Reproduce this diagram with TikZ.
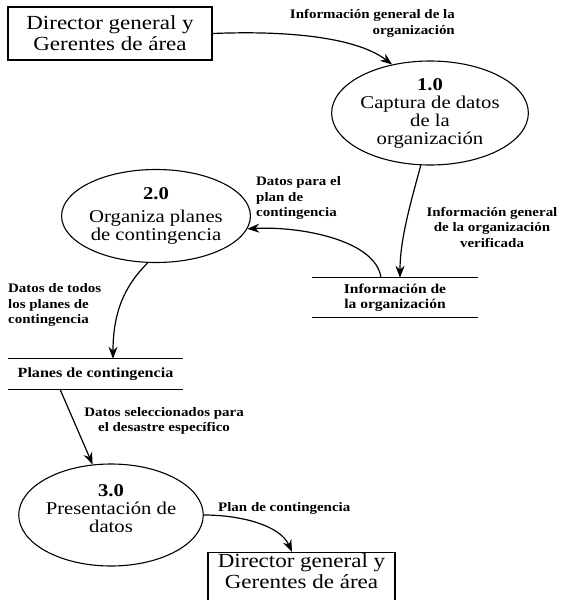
\documentclass[tikz,border=0pt]{standalone}
\usepackage{fontspec}
\setmainfont{Liberation Serif}[FakeStretch=1.15]
\usetikzlibrary{arrows.meta,shapes.geometric}

\begin{document}
\begin{tikzpicture}[x=1pt,y=-1pt,
  entity/.style={draw, line width=1.2pt, align=center, inner sep=0pt,
    font=\fontsize{20}{21}\selectfont},
  process/.style={draw, ellipse, line width=1.1pt, align=center, inner sep=0pt,
    font=\fontsize{18}{18}\selectfont},
  store/.style={align=center, inner sep=0pt,
    font=\bfseries\fontsize{13.5}{14.5}\selectfont},
  storeline/.style={line width=1.2pt},
  flow/.style={line width=1.2pt, -{Stealth[length=12pt,width=9pt]}},
  flowlabel/.style={inner sep=0pt, font=\bfseries\fontsize{13}{15.5}\selectfont}
]
\clip (0,0) rectangle (567,600);

% external entities
\node[entity, minimum width=204pt, minimum height=53pt] (dirA) at (110,33.5)
  {Director general y\\Gerentes de área};
\node[entity, anchor=north, minimum width=187pt, inner ysep=1.5pt, text depth=40pt] (dirB)
  at (301.5,552) {Director general y\\Gerentes de área};

% processes
\node[process, minimum width=150pt, minimum height=104pt] (p1) at (430,113)
  {\textbf{1.0}\\Captura de datos\\de la\\organización};
\node[process, minimum width=158pt, minimum height=93pt] (p2) at (156,216)
  {\textbf{2.0}\\[5pt]Organiza planes\\de contingencia};
\node[process, minimum width=148pt, minimum height=102pt, text depth=13pt] (p3)
  at (111,515) {\textbf{3.0}\\Presentación de\\datos};

% data stores
\node[store, minimum width=165pt, minimum height=39pt] (s1) at (395,297.5)
  {Información de\\la organización};
\draw[storeline] (s1.north west) -- (s1.north east) (s1.south west) -- (s1.south east);
\node[store, font=\bfseries\fontsize{14}{15}\selectfont, minimum width=175pt,
  minimum height=30pt] (s2) at (95.5,374) {Planes de contingencia};
\draw[storeline] (s2.north west) -- (s2.north east) (s2.south west) -- (s2.south east);

% data flows
\draw[flow] (dirA.east) .. controls (300,30) and (360,40) .. (p1.128);
\draw[flow] (p1.-100) .. controls (410,205) and (400,240) .. ([xshift=5pt]s1.north);
\draw[flow] ([xshift=-14pt]s1.north) .. controls (376,240) and (300,226) .. (p2.-8);
\draw[flow] (p2.-100) .. controls (120,290) and (113,320) .. ([xshift=17.5pt]s2.north);
\draw[flow] ([xshift=-35.5pt]s2.south) -- (p3.110);
\draw[flow] (p3.east) .. controls (240,515) and (280,525) .. ([xshift=-9.5pt]dirB.north);

% flow labels
\node[flowlabel, anchor=east, align=right] (l1) at (455,23.5)
  {Información general de la\\organización};
\node[flowlabel, align=center] (l2) at (492,227)
  {Información general\\de la organización\\verificada};
\node[flowlabel, anchor=west, align=left] (l3) at (256,198)
  {Datos para el\\plan de\\contingencia};
\node[flowlabel, anchor=west, align=left] (l4) at (8,305)
  {Datos de todos\\los planes de\\contingencia};
\node[flowlabel, align=center] (l5) at (164,421)
  {Datos seleccionados para\\el desastre específico};
\node[flowlabel, anchor=west] (l6) at (218,508) {Plan de contingencia};
\end{tikzpicture}
\end{document}
